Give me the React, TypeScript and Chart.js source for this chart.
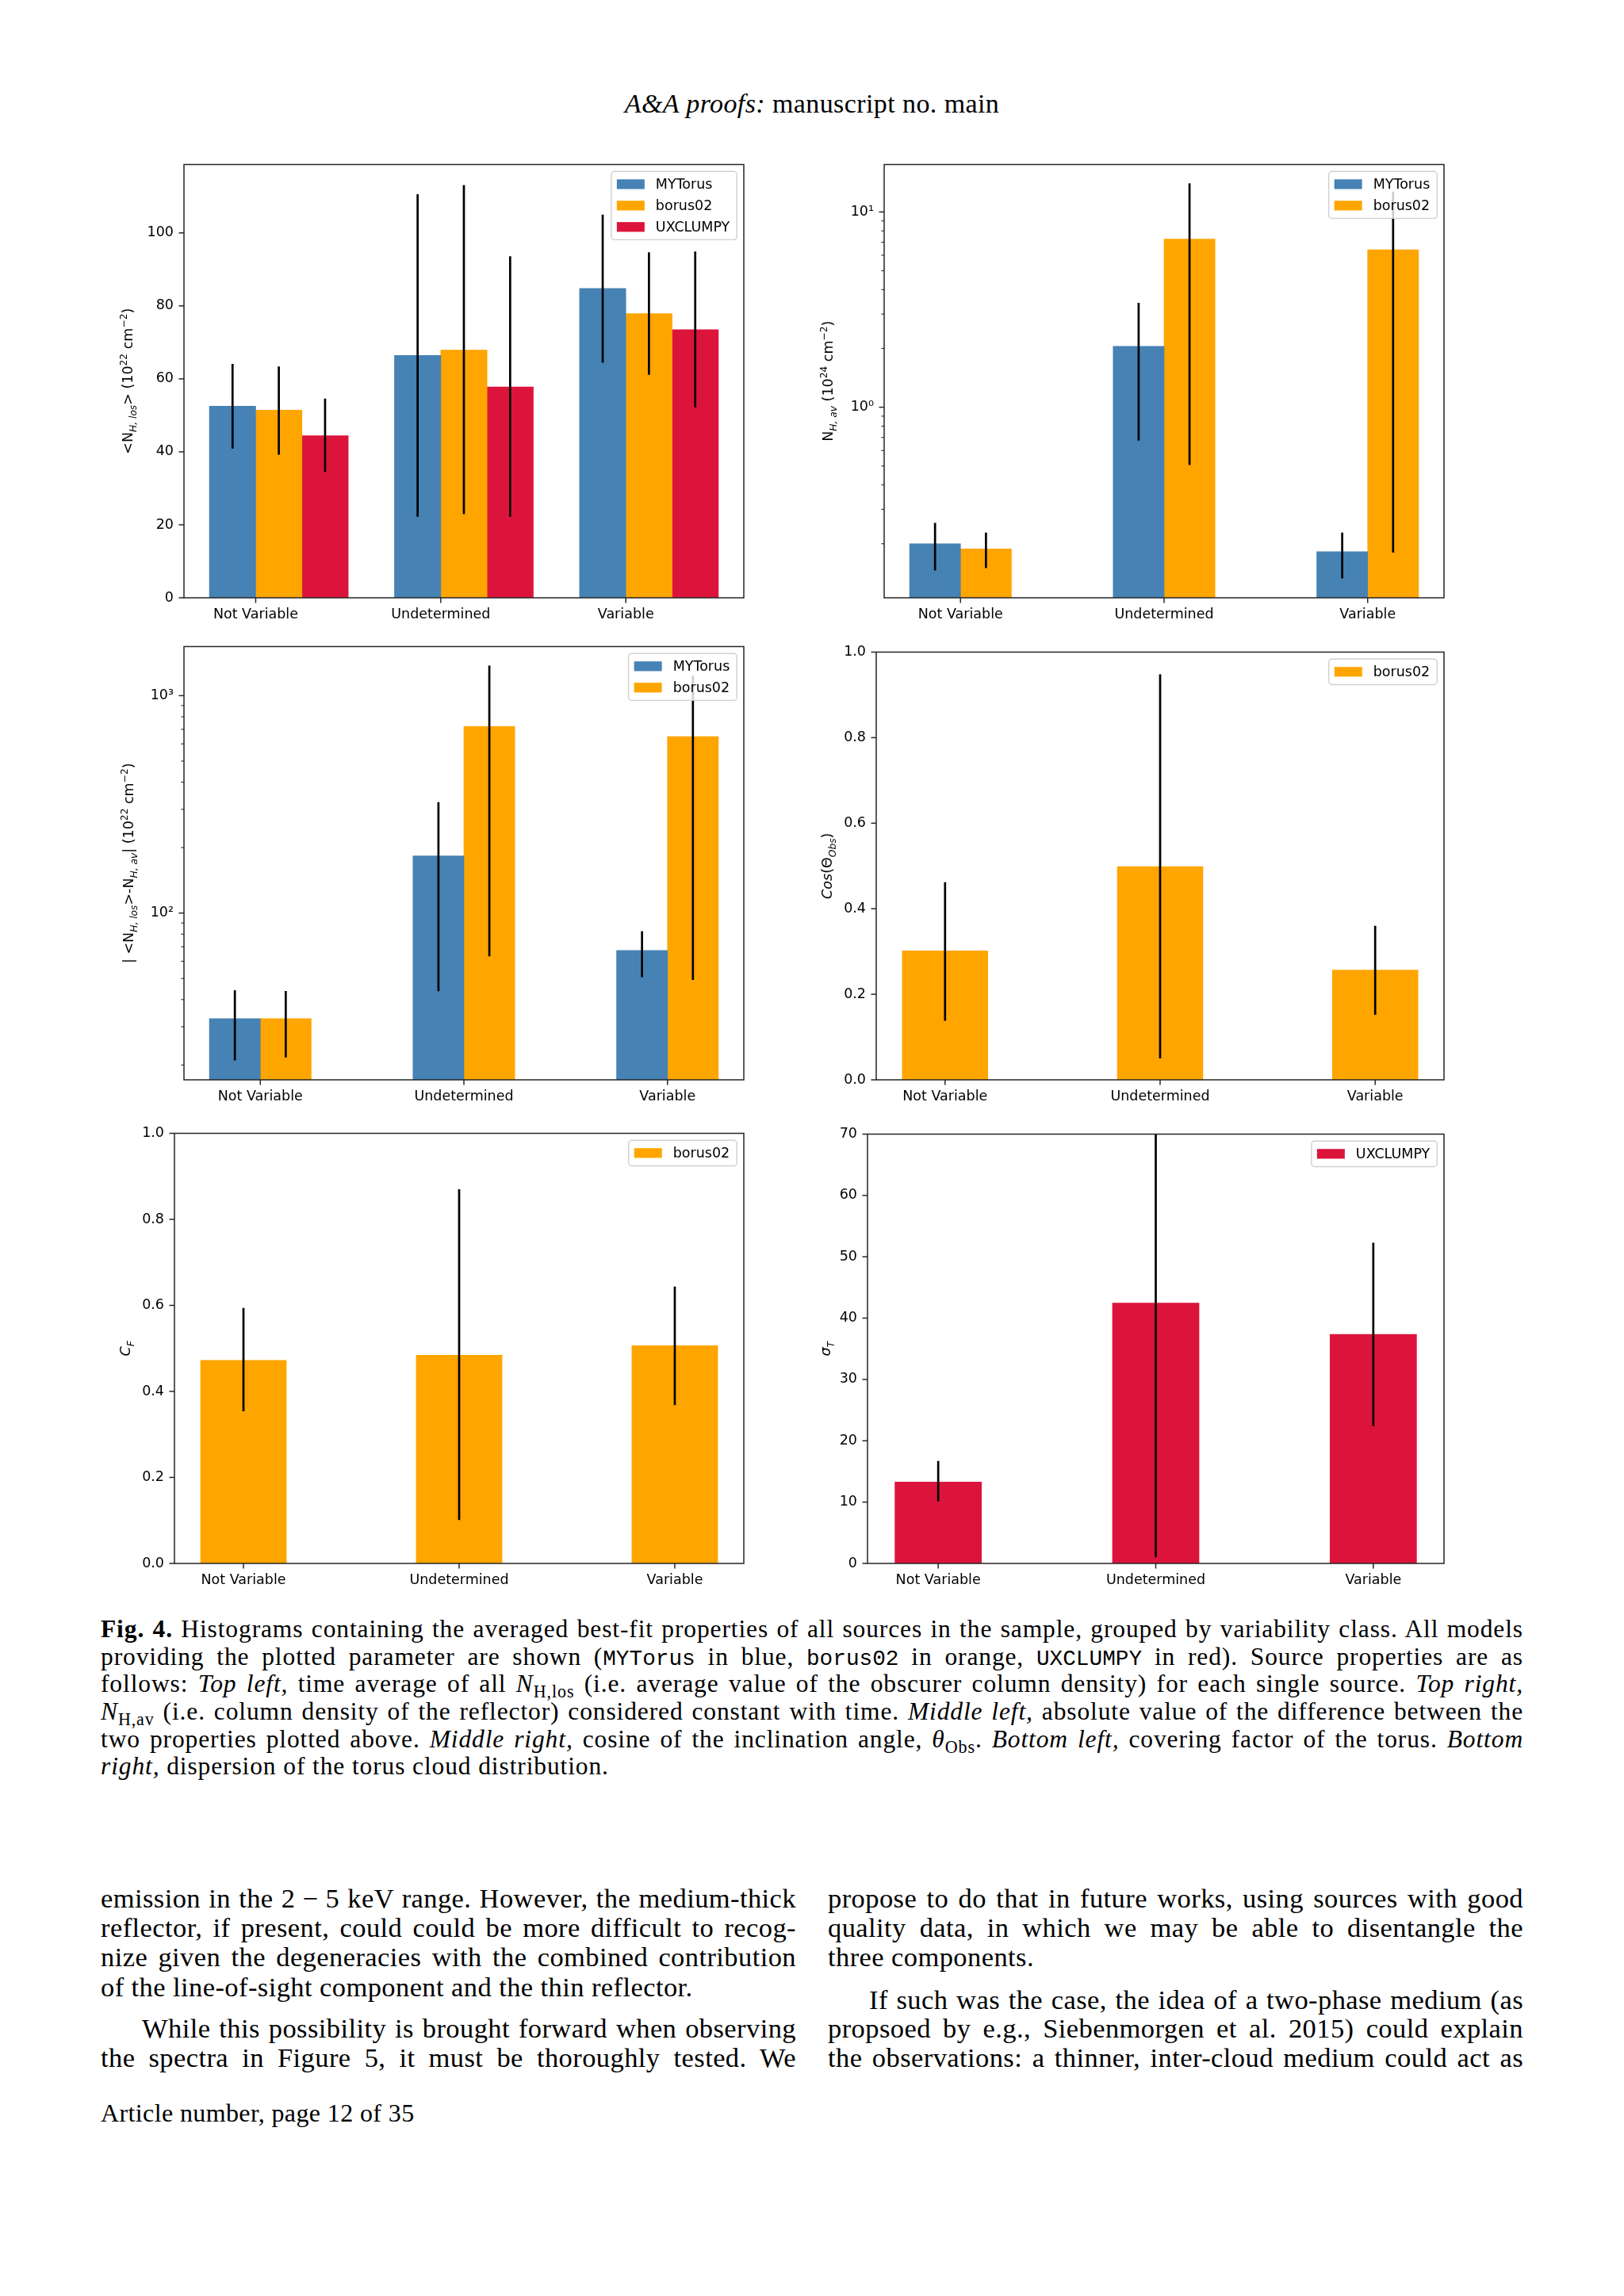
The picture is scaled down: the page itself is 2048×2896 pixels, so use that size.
import React, { useEffect, useLayoutEffect, useRef } from 'react';
import { Chart, registerables } from 'chart.js';

Chart.register(...registerables);

// ---------------- data ----------------
const CATEGORIES = ['Not Variable', 'Undetermined', 'Variable'];

// Top left: <N_H,los> (10^22 cm^-2)
const NHLOS_MYTORUS = [52.5, 66.4, 84.8];
const NHLOS_MYTORUS_LO = [40.9, 22.2, 64.4];
const NHLOS_MYTORUS_HI = [64.1, 110.6, 105.0];
const NHLOS_BORUS = [51.4, 67.9, 77.9];
const NHLOS_BORUS_LO = [39.2, 22.9, 61.1];
const NHLOS_BORUS_HI = [63.4, 113.1, 94.7];
const NHLOS_UXCLUMPY = [44.4, 57.8, 73.5];
const NHLOS_UXCLUMPY_LO = [34.5, 22.2, 52.2];
const NHLOS_UXCLUMPY_HI = [54.6, 93.6, 94.9];
const NHLOS_TICKS = [0, 20, 40, 60, 80, 100];
const NHLOS_TICK_LABELS = ['0', '20', '40', '60', '80', '100'];

// Top right: N_H,av (10^24 cm^-2), log axis
const NHAV_MYTORUS = [0.2, 2.05, 0.182];
const NHAV_MYTORUS_LO = [0.146, 0.674, 0.133];
const NHAV_MYTORUS_HI = [0.256, 3.42, 0.228];
const NHAV_BORUS = [0.188, 7.26, 6.4];
const NHAV_BORUS_LO = [0.15, 0.506, 0.18];
const NHAV_BORUS_HI = [0.228, 14.0, 12.7];
const NHAV_TICKS = [1, 10];
const NHAV_TICK_LABELS = ['10\u2070', '10\u00b9'];

// Middle left: |<N_H,los> - N_H,av| (10^22 cm^-2), log axis
const DIFF_MYTORUS = [32.7, 183, 67.3];
const DIFF_MYTORUS_LO = [21.0, 43.7, 50.7];
const DIFF_MYTORUS_HI = [44.2, 324, 82.6];
const DIFF_BORUS = [32.7, 721, 648];
const DIFF_BORUS_LO = [21.7, 63.2, 49.3];
const DIFF_BORUS_HI = [43.8, 1374, 1236];
const DIFF_TICKS = [100, 1000];
const DIFF_TICK_LABELS = ['10\u00b2', '10\u00b3'];

// Middle right: cos(theta_obs)
const COS_BORUS = [0.302, 0.499, 0.257];
const COS_BORUS_LO = [0.138, 0.05, 0.152];
const COS_BORUS_HI = [0.462, 0.948, 0.36];
const UNIT_TICKS = [0, 0.2, 0.4, 0.6, 0.8, 1.0];
const UNIT_TICK_LABELS = ['0.0', '0.2', '0.4', '0.6', '0.8', '1.0'];

// Bottom left: covering factor
const CF_BORUS = [0.473, 0.485, 0.507];
const CF_BORUS_LO = [0.354, 0.101, 0.368];
const CF_BORUS_HI = [0.594, 0.87, 0.644];

// Bottom right: sigma_T
const SIGMA_UXCLUMPY = [13.3, 42.5, 37.4];
const SIGMA_UXCLUMPY_LO = [10.1, 1.0, 22.4];
const SIGMA_UXCLUMPY_HI = [16.7, 85.0, 52.3];
const SIGMA_TICKS = [0, 10, 20, 30, 40, 50, 60, 70];
const SIGMA_TICK_LABELS = ['0', '10', '20', '30', '40', '50', '60', '70'];

// ---------------- styles ----------------
const C_MYTORUS = '#4682b4';
const C_BORUS = '#ffa500';
const C_UXCLUMPY = '#dc143c';
const FONT = 'DejaVu Sans';
const FS = 17.5;
const AX_W = 130;
const AX_H = 60;
const PAD_T = 15;
const PAD_R = 15;
const SPINE = '#262626';

type Seg = { t: string; s?: 'sub' | 'sup'; i?: boolean };
type Series = { label: string; color: string; offset: number; values: number[]; lo: number[]; hi: number[] };
type Panel = {
  id: string;
  rect: { l: number; t: number; r: number; b: number };
  xMin: number;
  xMax: number;
  yType: 'linear' | 'logarithmic';
  yMin: number;
  yMax: number;
  yTicks: number[];
  yTickLabels: string[];
  barPct: number;
  titleOffset: number;
  yTitle: Seg[];
  series: Series[];
};

const PANELS: Panel[] = [
  {
    id: 'p1',
    rect: { l: 232, t: 199, r: 938, b: 754 },
    xMin: -0.3875, xMax: 2.6375,
    yType: 'linear', yMin: 0, yMax: 118.75,
    yTicks: NHLOS_TICKS, yTickLabels: NHLOS_TICK_LABELS,
    barPct: 1, titleOffset: 71,
    yTitle: [{ t: '<N' }, { t: 'H, los', s: 'sub', i: true }, { t: '> (10' }, { t: '22', s: 'sup' }, { t: ' cm' }, { t: '\u22122', s: 'sup' }, { t: ')' }],
    series: [
      { label: 'MYTorus', color: C_MYTORUS, offset: -0.125, values: NHLOS_MYTORUS, lo: NHLOS_MYTORUS_LO, hi: NHLOS_MYTORUS_HI },
      { label: 'borus02', color: C_BORUS, offset: 0.125, values: NHLOS_BORUS, lo: NHLOS_BORUS_LO, hi: NHLOS_BORUS_HI },
      { label: 'UXCLUMPY', color: C_UXCLUMPY, offset: 0.375, values: NHLOS_UXCLUMPY, lo: NHLOS_UXCLUMPY_LO, hi: NHLOS_UXCLUMPY_HI },
    ],
  },
  {
    id: 'p2',
    rect: { l: 1115, t: 199, r: 1821, b: 754 },
    xMin: -0.375, xMax: 2.375,
    yType: 'logarithmic', yMin: 0.1057, yMax: 17.5,
    yTicks: NHAV_TICKS, yTickLabels: NHAV_TICK_LABELS,
    barPct: 1, titleOffset: 71,
    yTitle: [{ t: 'N' }, { t: 'H, av', s: 'sub', i: true }, { t: ' (10' }, { t: '24', s: 'sup' }, { t: ' cm' }, { t: '\u22122', s: 'sup' }, { t: ')' }],
    series: [
      { label: 'MYTorus', color: C_MYTORUS, offset: -0.125, values: NHAV_MYTORUS, lo: NHAV_MYTORUS_LO, hi: NHAV_MYTORUS_HI },
      { label: 'borus02', color: C_BORUS, offset: 0.125, values: NHAV_BORUS, lo: NHAV_BORUS_LO, hi: NHAV_BORUS_HI },
    ],
  },
  {
    id: 'p3',
    rect: { l: 232, t: 807, r: 938, b: 1362 },
    xMin: -0.375, xMax: 2.375,
    yType: 'logarithmic', yMin: 17.1, yMax: 1682,
    yTicks: DIFF_TICKS, yTickLabels: DIFF_TICK_LABELS,
    barPct: 1, titleOffset: 70,
    yTitle: [{ t: '| <N' }, { t: 'H, los', s: 'sub', i: true }, { t: '>-N' }, { t: 'H, av', s: 'sub', i: true }, { t: '| (10' }, { t: '22', s: 'sup' }, { t: ' cm' }, { t: '\u22122', s: 'sup' }, { t: ')' }],
    series: [
      { label: 'MYTorus', color: C_MYTORUS, offset: -0.125, values: DIFF_MYTORUS, lo: DIFF_MYTORUS_LO, hi: DIFF_MYTORUS_HI },
      { label: 'borus02', color: C_BORUS, offset: 0.125, values: DIFF_BORUS, lo: DIFF_BORUS_LO, hi: DIFF_BORUS_HI },
    ],
  },
  {
    id: 'p4',
    rect: { l: 1105, t: 814, r: 1821, b: 1362 },
    xMin: -0.32, xMax: 2.32,
    yType: 'linear', yMin: 0, yMax: 1,
    yTicks: UNIT_TICKS, yTickLabels: UNIT_TICK_LABELS,
    barPct: 0.4, titleOffset: 62,
    yTitle: [{ t: 'Cos', i: true }, { t: '(\u0398' }, { t: 'Obs', s: 'sub', i: true }, { t: ')' }],
    series: [{ label: 'borus02', color: C_BORUS, offset: 0, values: COS_BORUS, lo: COS_BORUS_LO, hi: COS_BORUS_HI }],
  },
  {
    id: 'p5',
    rect: { l: 220, t: 1421, r: 938, b: 1972 },
    xMin: -0.32, xMax: 2.32,
    yType: 'linear', yMin: 0, yMax: 1,
    yTicks: UNIT_TICKS, yTickLabels: UNIT_TICK_LABELS,
    barPct: 0.4, titleOffset: 62,
    yTitle: [{ t: 'C', i: true }, { t: 'F', s: 'sub', i: true }],
    series: [{ label: 'borus02', color: C_BORUS, offset: 0, values: CF_BORUS, lo: CF_BORUS_LO, hi: CF_BORUS_HI }],
  },
  {
    id: 'p6',
    rect: { l: 1094, t: 1422, r: 1821, b: 1972 },
    xMin: -0.325, xMax: 2.325,
    yType: 'linear', yMin: 0, yMax: 70,
    yTicks: SIGMA_TICKS, yTickLabels: SIGMA_TICK_LABELS,
    barPct: 0.4, titleOffset: 53,
    yTitle: [{ t: '\u03c3', i: true }, { t: 'T', s: 'sub', i: true }],
    series: [{ label: 'UXCLUMPY', color: C_UXCLUMPY, offset: 0, values: SIGMA_UXCLUMPY, lo: SIGMA_UXCLUMPY_LO, hi: SIGMA_UXCLUMPY_HI }],
  },
];

// ---------------- drawing helpers ----------------
function logMinorTicks(min: number, max: number): number[] {
  const out: number[] = [];
  for (let e = Math.floor(Math.log10(min)); e <= Math.ceil(Math.log10(max)); e++) {
    for (let m = 2; m <= 9; m++) {
      const v = m * Math.pow(10, e);
      if (v >= min && v <= max) out.push(v);
    }
  }
  return out;
}

function drawRich(ctx: CanvasRenderingContext2D, segs: Seg[], cx: number, cy: number) {
  const parts = segs.map((s) => {
    const size = s.s ? FS * 0.7 : FS;
    const font = `${s.i ? 'italic ' : ''}${size}px "${FONT}"`;
    ctx.font = font;
    return { ...s, font, w: ctx.measureText(s.t).width };
  });
  const total = parts.reduce((a, p) => a + p.w, 0);
  ctx.save();
  ctx.translate(cx, cy);
  ctx.rotate(-Math.PI / 2);
  ctx.fillStyle = '#000';
  ctx.textBaseline = 'alphabetic';
  ctx.textAlign = 'left';
  const base = FS * 0.36;
  let x = -total / 2;
  for (const p of parts) {
    const dy = p.s === 'sub' ? FS * 0.24 : p.s === 'sup' ? -FS * 0.42 : 0;
    ctx.font = p.font;
    ctx.fillText(p.t, x, base + dy);
    x += p.w;
  }
  ctx.restore();
}

function roundRectPath(ctx: CanvasRenderingContext2D, x: number, y: number, w: number, h: number, r: number) {
  ctx.beginPath();
  ctx.moveTo(x + r, y);
  ctx.lineTo(x + w - r, y);
  ctx.arcTo(x + w, y, x + w, y + r, r);
  ctx.lineTo(x + w, y + h - r);
  ctx.arcTo(x + w, y + h, x + w - r, y + h, r);
  ctx.lineTo(x + r, y + h);
  ctx.arcTo(x, y + h, x, y + h - r, r);
  ctx.lineTo(x, y + r);
  ctx.arcTo(x, y, x + r, y, r);
  ctx.closePath();
}

const paperPlugin = {
  id: 'paper',
  afterDatasetsDraw(chart: any) {
    const { ctx, chartArea: a } = chart;
    const ys = chart.scales.y;
    // error bars
    ctx.save();
    ctx.beginPath();
    ctx.rect(a.left, a.top, a.right - a.left, a.bottom - a.top);
    ctx.clip();
    ctx.strokeStyle = '#000';
    ctx.lineWidth = 2.7;
    chart.data.datasets.forEach((ds: any, i: number) => {
      const meta = chart.getDatasetMeta(i);
      meta.data.forEach((el: any, j: number) => {
        const y1 = ys.getPixelForValue(ds.errLo[j]);
        const y2 = ys.getPixelForValue(ds.errHi[j]);
        ctx.beginPath();
        ctx.moveTo(el.x, y1);
        ctx.lineTo(el.x, y2);
        ctx.stroke();
      });
    });
    ctx.restore();

    // legend (upper right, inside axes)
    const items = chart.data.datasets.map((d: any) => ({ label: d.label, color: d.backgroundColor }));
    ctx.save();
    ctx.font = `${FS}px "${FONT}"`;
    const tw = Math.max(...items.map((it: any) => ctx.measureText(it.label).width));
    const pad = 0.4 * FS, hl = 2 * FS, hp = 0.8 * FS, rowH = 1.04 * FS, sp = 0.5 * FS;
    const w = pad * 2 + hl + hp + tw + 2;
    const h = pad * 2 + items.length * rowH + (items.length - 1) * sp;
    const right = a.right - 0.5 * FS;
    const top = a.top + 0.5 * FS;
    const left = right - w;
    roundRectPath(ctx, left, top, w, h, 4);
    ctx.fillStyle = 'rgba(255,255,255,0.8)';
    ctx.fill();
    ctx.strokeStyle = '#d0d0d0';
    ctx.lineWidth = 1.4;
    ctx.stroke();
    items.forEach((it: any, k: number) => {
      const cy = top + pad + rowH / 2 + k * (rowH + sp);
      ctx.fillStyle = it.color;
      ctx.fillRect(left + pad, cy - 0.35 * FS, hl, 0.7 * FS);
      ctx.fillStyle = '#000';
      ctx.textBaseline = 'middle';
      ctx.textAlign = 'left';
      ctx.fillText(it.label, left + pad + hl + hp, cy + 1);
    });
    ctx.restore();
  },
  afterDraw(chart: any, _args: any, opts: any) {
    const { ctx, chartArea: a } = chart;
    const xs = chart.scales.x;
    const ys = chart.scales.y;
    ctx.save();
    ctx.strokeStyle = SPINE;
    ctx.lineWidth = 1.5;
    ctx.strokeRect(a.left, a.top, a.right - a.left, a.bottom - a.top);
    xs.ticks.forEach((_t: any, i: number) => {
      const px = xs.getPixelForTick(i);
      ctx.beginPath();
      ctx.moveTo(px, a.bottom);
      ctx.lineTo(px, a.bottom + 6.5);
      ctx.stroke();
    });
    ys.ticks.forEach((t: any, i: number) => {
      const py = ys.getPixelForTick(i);
      const major = t.label !== '' && t.label != null;
      ctx.lineWidth = major ? 1.5 : 1.1;
      ctx.beginPath();
      ctx.moveTo(a.left, py);
      ctx.lineTo(a.left - (major ? 6.5 : 3.6), py);
      ctx.stroke();
    });
    ctx.restore();
    drawRich(ctx, opts.yTitle, a.left - opts.titleOffset, (a.top + a.bottom) / 2);
  },
};

function buildConfig(p: Panel): any {
  const datasets = p.series.map((s) => ({
    label: s.label,
    data: s.values.map((v, i) => ({ x: i + s.offset, y: v })),
    errLo: s.lo,
    errHi: s.hi,
    backgroundColor: s.color,
    borderWidth: 0,
    grouped: false,
    barPercentage: p.barPct,
    categoryPercentage: 1,
  }));
  const allYTicks =
    p.yType === 'logarithmic'
      ? [...p.yTicks, ...logMinorTicks(p.yMin, p.yMax)].sort((a, b) => a - b)
      : p.yTicks;
  const yLabel = (v: number) => {
    const k = p.yTicks.findIndex((t) => Math.abs(t - v) <= Math.abs(t) * 1e-6 + 1e-9);
    return k >= 0 ? p.yTickLabels[k] : '';
  };
  const tickFont = { family: FONT, size: FS };
  return {
    type: 'bar',
    data: { datasets },
    options: {
      animation: false,
      responsive: false,
      maintainAspectRatio: false,
      devicePixelRatio: 1,
      layout: { padding: { top: PAD_T, right: PAD_R, left: 0, bottom: 0 } },
      plugins: {
        legend: { display: false },
        tooltip: { enabled: false },
        paper: { yTitle: p.yTitle, titleOffset: p.titleOffset },
      },
      scales: {
        x: {
          type: 'linear',
          offset: false,
          bounds: 'data',
          min: p.xMin,
          max: p.xMax,
          grid: { display: false, drawTicks: false, offset: false },
          border: { display: false },
          afterBuildTicks: (sc: any) => {
            sc.ticks = CATEGORIES.map((_c, i) => ({ value: i }));
          },
          afterFit: (sc: any) => {
            sc.height = AX_H;
          },
          ticks: {
            autoSkip: false,
            maxRotation: 0,
            minRotation: 0,
            padding: 11,
            color: '#000',
            font: tickFont,
            callback: (v: number) => CATEGORIES[Math.round(v)] ?? '',
          },
        },
        y: {
          type: p.yType,
          offset: false,
          bounds: 'data',
          min: p.yMin,
          max: p.yMax,
          grid: { display: false, drawTicks: false },
          border: { display: false },
          afterBuildTicks: (sc: any) => {
            sc.ticks = allYTicks.map((v) => ({ value: v }));
          },
          afterFit: (sc: any) => {
            sc.width = AX_W;
          },
          ticks: {
            autoSkip: false,
            padding: 13,
            color: '#000',
            font: tickFont,
            callback: (v: number) => yLabel(v),
          },
        },
      },
    },
    plugins: [paperPlugin],
  };
}

function PanelChart({ p }: { p: Panel }) {
  const ref = useRef<HTMLCanvasElement>(null);
  useEffect(() => {
    const chart = new Chart(ref.current as HTMLCanvasElement, buildConfig(p));
    return () => chart.destroy();
  }, [p]);
  const W = p.rect.r - p.rect.l + AX_W + PAD_R;
  const H = p.rect.b - p.rect.t + PAD_T + AX_H;
  return (
    <canvas
      ref={ref}
      width={W}
      height={H}
      style={{ position: 'absolute', left: p.rect.l - AX_W, top: p.rect.t - PAD_T, width: W, height: H }}
    />
  );
}

// ---------------- text ----------------
const SERIF = '"Liberation Serif", "Times New Roman", serif';
const MONO = '"Liberation Mono", monospace';
const CAP_TRACK = '0.028em';
const BODY_TRACK = '0.012em';

// One typeset line; when justified, the word spacing is fitted to the column width.
function TL(props: { x: number; y: number; w: number; size: number; track: string; justify?: boolean; indent?: number; children: any }) {
  const { x, y, w, size, track, justify, indent, children } = props;
  const ref = useRef<HTMLSpanElement>(null);
  useLayoutEffect(() => {
    const el = ref.current;
    if (!justify || !el) return;
    el.style.wordSpacing = '0px';
    const nat = el.getBoundingClientRect().width;
    const n = ((el.textContent || '').match(/ /g) || []).length;
    if (n > 0) el.style.wordSpacing = `${(w - (indent || 0) - nat) / n}px`;
  }, [justify, w, indent]);
  return (
    <div
      style={{
        position: 'absolute',
        left: x,
        top: y - size * 0.66,
        width: w,
        paddingLeft: indent || 0,
        boxSizing: 'border-box',
        fontFamily: SERIF,
        fontSize: size,
        letterSpacing: track,
        lineHeight: `${Math.round(size * 1.15)}px`,
        whiteSpace: 'nowrap',
        color: '#000',
      }}
    >
      <span ref={ref}>{children}</span>
    </div>
  );
}

const Sub = ({ children }: { children: any }) => (
  <span style={{ fontSize: '0.7em', verticalAlign: '-0.3em', lineHeight: 0, fontStyle: 'normal' }}>{children}</span>
);
const Tt = ({ children }: { children: any }) => (
  <span style={{ fontFamily: MONO, fontSize: '0.88em', letterSpacing: 0 }}>{children}</span>
);

const CAP_X = 127;
const CAP_W = 1794;
const CAP_FS = 31.5;
const CAP_Y0 = 2058;
const CAP_DY = 34.6;

function Caption() {
  const y = (i: number) => CAP_Y0 + i * CAP_DY;
  const c = { x: CAP_X, w: CAP_W, size: CAP_FS, track: CAP_TRACK };
  return (
    <>
      <TL {...c} y={y(0)} justify>
        <b>Fig. 4.</b> Histograms containing the averaged best-fit properties of all sources in the sample, grouped by variability class. All models
      </TL>
      <TL {...c} y={y(1)} justify>
        providing the plotted parameter are shown (<Tt>MYTorus</Tt> in blue, <Tt>borus02</Tt> in orange, <Tt>UXCLUMPY</Tt> in red). Source properties are as
      </TL>
      <TL {...c} y={y(2)} justify>
        follows: <i>Top left,</i> time average of all <i>N</i><Sub>H,los</Sub> (i.e. average value of the obscurer column density) for each single source. <i>Top right,</i>
      </TL>
      <TL {...c} y={y(3)} justify>
        <i>N</i><Sub>H,av</Sub> (i.e. column density of the reflector) considered constant with time. <i>Middle left,</i> absolute value of the difference between the
      </TL>
      <TL {...c} y={y(4)} justify>
        two properties plotted above. <i>Middle right,</i> cosine of the inclination angle, <i>θ</i><Sub>Obs</Sub>. <i>Bottom left,</i> covering factor of the torus. <i>Bottom</i>
      </TL>
      <TL {...c} y={y(5)}>
        <i>right,</i> dispersion of the torus cloud distribution.
      </TL>
    </>
  );
}

const BODY_FS = 34.5;
const COL_L = 127;
const COL_R = 1044;
const COL_W = 877;
const IND = 52;

function Body() {
  const L = { x: COL_L, w: COL_W, size: BODY_FS, track: BODY_TRACK };
  const R = { x: COL_R, w: COL_W, size: BODY_FS, track: BODY_TRACK };
  return (
    <>
      <TL {...L} y={2397} justify>
        emission in the 2{'\u2005'}−{'\u2005'}5 keV range. However, the medium-thick
      </TL>
      <TL {...L} y={2434} justify>
        reflector, if present, could could be more difficult to recog-
      </TL>
      <TL {...L} y={2471} justify>
        nize given the degeneracies with the combined contribution
      </TL>
      <TL {...L} y={2509}>
        of the line-of-sight component and the thin reflector.
      </TL>
      <TL {...L} y={2561} justify indent={IND}>
        While this possibility is brought forward when observing
      </TL>
      <TL {...L} y={2598} justify>
        the spectra in Figure 5, it must be thoroughly tested. We
      </TL>

      <TL {...R} y={2397} justify>
        propose to do that in future works, using sources with good
      </TL>
      <TL {...R} y={2434} justify>
        quality data, in which we may be able to disentangle the
      </TL>
      <TL {...R} y={2471}>
        three components.
      </TL>
      <TL {...R} y={2525} justify indent={IND}>
        If such was the case, the idea of a two-phase medium (as
      </TL>
      <TL {...R} y={2561} justify>
        propsoed by e.g., Siebenmorgen et al. 2015) could explain
      </TL>
      <TL {...R} y={2598} justify>
        the observations: a thinner, inter-cloud medium could act as
      </TL>

      <TL x={COL_L} w={800} size={32} track={BODY_TRACK} y={2668}>
        Article number, page 12 of 35
      </TL>
    </>
  );
}

export default function App() {
  return (
    <div
      style={{
        position: 'absolute',
        left: 0,
        top: 0,
        width: 2048,
        height: 2896,
        background: '#fff',
        overflow: 'hidden',
      }}
    >
      <div
        style={{
          position: 'absolute',
          left: 0,
          width: 2048,
          top: 133 - 34 * 0.66,
          textAlign: 'center',
          fontFamily: SERIF,
          fontSize: 34,
          letterSpacing: BODY_TRACK,
          lineHeight: '39px',
          color: '#000',
        }}
      >
        <i>A&amp;A proofs:</i> manuscript no. main
      </div>
      {PANELS.map((p) => (
        <PanelChart key={p.id} p={p} />
      ))}
      <Caption />
      <Body />
    </div>
  );
}
